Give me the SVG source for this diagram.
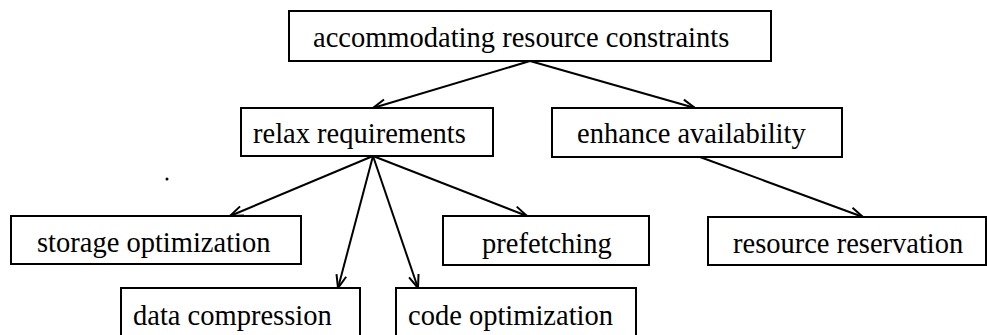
<svg xmlns="http://www.w3.org/2000/svg" width="987" height="335" viewBox="0 0 987 335">
<style>
.box{fill:#fff;stroke:#000;stroke-width:2}
.lbl{font-family:"Liberation Serif","Times New Roman",serif;font-size:28.5px;fill:#000}
.edge{fill:none;stroke:#000;stroke-width:2;marker-end:url(#arr)}
</style>
<defs>
<marker id="arr" viewBox="-14 -7 16 14" refX="0" refY="0" markerWidth="16" markerHeight="14" markerUnits="userSpaceOnUse" orient="auto">
<path d="M-13,-5 L0,0 L-13,5" fill="none" stroke="#000" stroke-width="2"/>
</marker>
</defs>
<rect width="987" height="335" fill="#fff"/>
<g id="connectors">
<line class="edge" x1="530" y1="61" x2="373" y2="108"/>
<line class="edge" x1="530" y1="61" x2="695" y2="108"/>
<line class="edge" x1="373" y1="156" x2="230" y2="216"/>
<line class="edge" x1="373" y1="156" x2="338" y2="288"/>
<line class="edge" x1="373" y1="156" x2="418" y2="288"/>
<line class="edge" x1="373" y1="156" x2="527" y2="216"/>
<line class="edge" x1="700" y1="157" x2="863" y2="217"/>
</g>
<g id="accommodating">
<rect class="box" x="289" y="11" width="482" height="50"/>
<text class="lbl" x="313" y="47">accommodating resource constraints</text>
</g>
<g id="relax">
<rect class="box" x="241" y="108" width="252" height="48"/>
<text class="lbl" x="253" y="143">relax requirements</text>
</g>
<g id="enhance">
<rect class="box" x="552" y="108" width="290" height="49"/>
<text class="lbl" x="577" y="143">enhance availability</text>
</g>
<g id="storage">
<rect class="box" x="11" y="216" width="290" height="48"/>
<text class="lbl" x="37" y="252">storage optimization</text>
</g>
<g id="prefetching">
<rect class="box" x="443" y="216" width="206" height="49"/>
<text class="lbl" x="482" y="253">prefetching</text>
</g>
<g id="reservation">
<rect class="box" x="708" y="217" width="278" height="48"/>
<text class="lbl" x="733" y="253">resource reservation</text>
</g>
<g id="compression">
<rect class="box" x="121" y="288" width="239" height="50"/>
<text class="lbl" x="133" y="325">data compression</text>
</g>
<g id="code">
<rect class="box" x="396" y="288" width="240" height="50"/>
<text class="lbl" x="408" y="325">code optimization</text>
</g>
<circle cx="167" cy="179" r="1.5" fill="#000"/>
</svg>
